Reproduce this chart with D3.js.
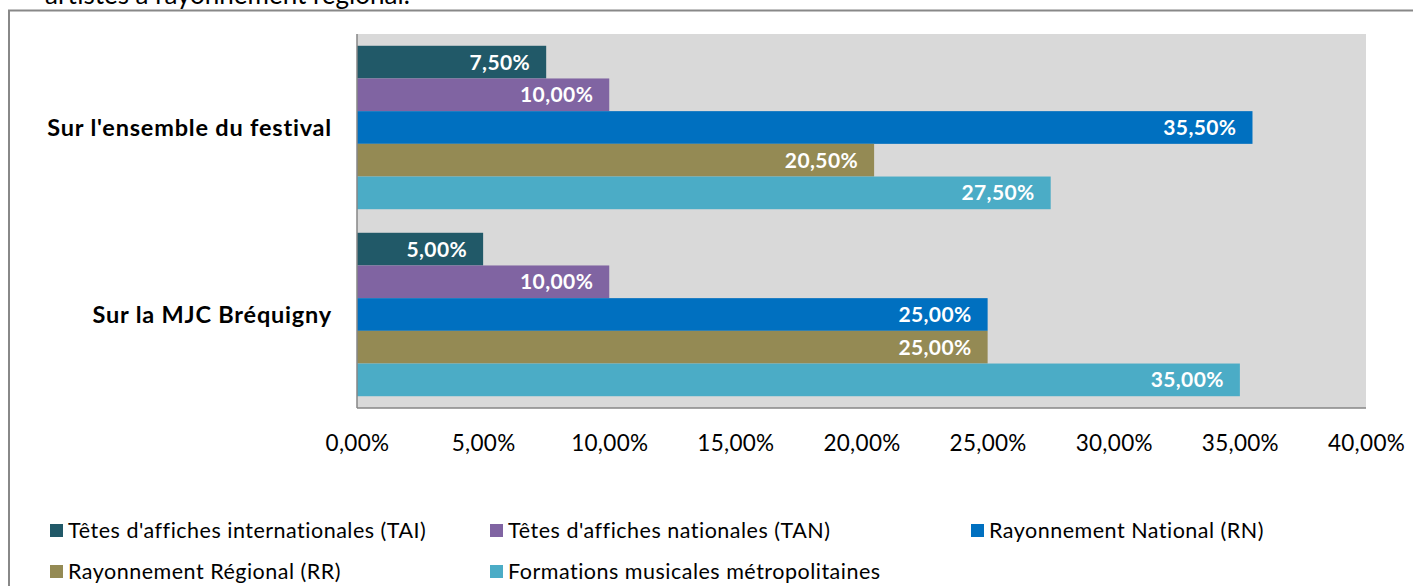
<!DOCTYPE html>
<html>
<head>
<meta charset="utf-8">
<script src="https://cdn.jsdelivr.net/npm/d3@7"></script>
<style>
  body { margin: 0; background: #fff; }
  svg { display: block; font-family: Lato, "Open Sans", sans-serif; }
</style>
</head>
<body>
<script>
// data
const categories = ["Sur l'ensemble du festival", "Sur la MJC Bréquigny"];
const seriesNames = [
  "Têtes d'affiches internationales (TAI)",
  "Têtes d'affiches nationales (TAN)",
  "Rayonnement National (RN)",
  "Rayonnement Régional (RR)",
  "Formations musicales métropolitaines"
];
const festivalValues = [7.5, 10, 35.5, 20.5, 27.5];
const mjcValues = [5, 10, 25, 25, 35];
const tickValues = [0, 5, 10, 15, 20, 25, 30, 35, 40];
const colors = ["#215968", "#8064A2", "#0070C0", "#948A54", "#4BACC6"];

const width = 1413, height = 586;
const margin = { left: 357, right: 47, top: 34, bottom: 178 };

const fmt = v => v.toFixed(2).replace(".", ",") + "%";

const svg = d3.select("body").append("svg")
  .attr("width", width)
  .attr("height", height);

// title of the page above, cut off at the top edge
svg.append("text")
  .attr("x", 45).attr("y", 4)
  .attr("font-size", 26)
  .attr("fill", "#000")
  .text("artistes à rayonnement régional.");

// chart frame
svg.append("rect")
  .attr("x", 9).attr("y", 10.5)
  .attr("width", width + 10).attr("height", height)
  .attr("fill", "none")
  .attr("stroke", "#888")
  .attr("stroke-width", 2);

const x = d3.scaleLinear()
  .domain([0, 40])
  .range([margin.left, width - margin.right]);

const y0 = d3.scaleBand()
  .domain(categories)
  .range([margin.top, height - margin.bottom])
  .paddingInner(0.126)
  .paddingOuter(0.063);

const y1 = d3.scaleBand()
  .domain(d3.range(seriesNames.length))
  .range([0, y0.bandwidth()]);

// plot background
svg.append("rect")
  .attr("x", x(0)).attr("y", margin.top)
  .attr("width", x(40) - x(0))
  .attr("height", height - margin.bottom - margin.top)
  .attr("fill", "#d9d9d9");

const rows = [festivalValues, mjcValues];

const groups = svg.selectAll(".group")
  .data(categories)
  .join("g")
  .attr("class", "group")
  .attr("transform", d => `translate(0,${y0(d)})`);

groups.selectAll("rect")
  .data((d, i) => rows[i].map((v, j) => ({ v, j })))
  .join("rect")
  .attr("x", x(0))
  .attr("y", d => y1(d.j))
  .attr("width", d => x(d.v) - x(0))
  .attr("height", y1.bandwidth())
  .attr("fill", d => colors[d.j]);

groups.selectAll("text.lbl")
  .data((d, i) => rows[i].map((v, j) => ({ v, j })))
  .join("text")
  .attr("class", "lbl")
  .attr("x", d => x(d.v) - 16)
  .attr("y", d => y1(d.j) + y1.bandwidth() / 2)
  .attr("dy", "0.36em")
  .attr("text-anchor", "end")
  .attr("font-size", 21)
  .attr("font-weight", "bold")
  .attr("letter-spacing", 0.4)
  .attr("fill", "#fff")
  .text(d => fmt(d.v));

// category labels
svg.selectAll(".cat")
  .data(categories)
  .join("text")
  .attr("class", "cat")
  .attr("x", 332)
  .attr("y", d => y0(d) + y0.bandwidth() / 2)
  .attr("dy", "0.36em")
  .attr("text-anchor", "end")
  .attr("font-size", 23.5)
  .attr("font-weight", "bold")
  .attr("letter-spacing", 0.8)
  .attr("fill", "#000")
  .text(d => d);

// axes lines
svg.append("line")
  .attr("x1", x(0)).attr("x2", x(0))
  .attr("y1", margin.top).attr("y2", height - margin.bottom)
  .attr("stroke", "#868686").attr("stroke-width", 1.5);
svg.append("line")
  .attr("x1", x(0)).attr("x2", x(40))
  .attr("y1", height - margin.bottom).attr("y2", height - margin.bottom)
  .attr("stroke", "#868686").attr("stroke-width", 1.5);

const xAxis = svg.append("g")
  .attr("transform", `translate(0,${height - margin.bottom})`)
  .call(d3.axisBottom(x).tickValues(tickValues).tickFormat(fmt).tickSize(0).tickPadding(27));
xAxis.select(".domain").remove();
xAxis.selectAll("text")
  .attr("font-size", 22.5)
  .attr("font-family", "Lato, 'Open Sans', sans-serif")
  .attr("letter-spacing", 0.3)
  .attr("fill", "#000");

// legend
const legendPos = [[50, 530], [490, 530], [971, 530], [50, 571], [490, 571]];
const legend = svg.selectAll(".leg")
  .data(seriesNames)
  .join("g")
  .attr("class", "leg")
  .attr("transform", (d, i) => `translate(${legendPos[i][0]},${legendPos[i][1]})`);
legend.append("rect")
  .attr("x", 0).attr("y", -6)
  .attr("width", 13).attr("height", 13)
  .attr("fill", (d, i) => colors[i]);
legend.append("text")
  .attr("x", 18).attr("y", 0)
  .attr("dy", "0.36em")
  .attr("font-size", 21.5)
  .attr("letter-spacing", 0.5)
  .attr("fill", "#000")
  .text(d => d);
</script>
</body>
</html>
